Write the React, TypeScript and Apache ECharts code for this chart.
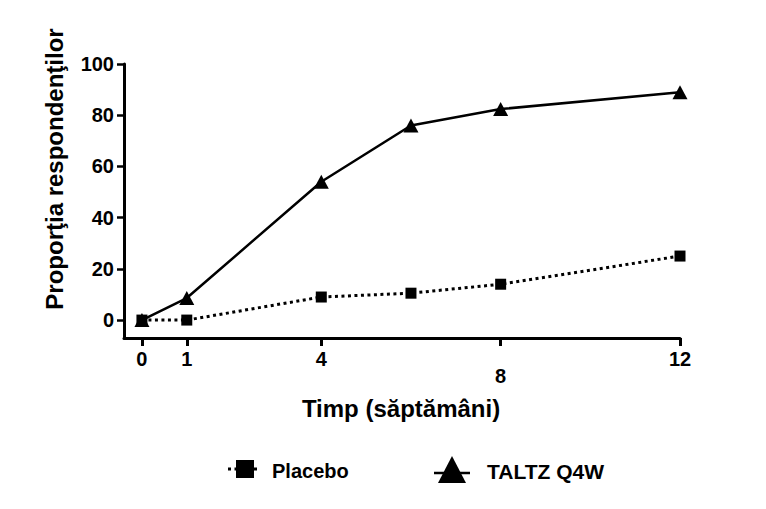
import React, { useEffect, useRef } from "react";
import * as echarts from "echarts";

const weeks = [0, 1, 4, 6, 8, 12];
const placebo = [0, 0, 9, 10.5, 14, 25];
const taltz = [0, 8.6, 54, 76, 82.4, 89];
const xTicks = [0, 1, 4, 8, 12];
const yTicks = [0, 20, 40, 60, 80, 100];
const seriesNames = ["Placebo", "TALTZ Q4W"];
const yTitle = "Proporţia respondenţilor";
const xTitle = "Timp (săptămâni)";

const FONT = '"Liberation Sans", Arial, sans-serif';

export default function App() {
  const ref = useRef<HTMLDivElement>(null);
  useEffect(() => {
    if (!ref.current) return;
    const chart = echarts.init(ref.current, null, { renderer: "svg" });
    chart.setOption({
      animation: false,
      backgroundColor: "#fff",
      grid: { left: 124, right: 86, top: 64, bottom: 171, containLabel: false },
      xAxis: {
        type: "value",
        min: -0.4,
        max: 12,
        splitLine: { show: false },
        axisLine: { onZero: false, lineStyle: { color: "#000", width: 3 } },
        axisTick: { customValues: xTicks, length: 8, lineStyle: { color: "#000", width: 3 } },
        axisLabel: {
          customValues: xTicks,
          margin: 11,
          color: "#000",
          fontFamily: FONT,
          fontWeight: "bold",
          fontSize: 20,
          formatter: (v: number) => (v === 8 ? "{low|8}" : String(v)),
          rich: {
            low: {
              padding: [17, 0, 0, 0],
              color: "#000",
              fontFamily: FONT,
              fontWeight: "bold",
              fontSize: 20,
            },
          },
        },
      },
      yAxis: {
        type: "value",
        min: -7,
        max: 100,
        splitLine: { show: false },
        axisLine: { onZero: false, lineStyle: { color: "#000", width: 3 } },
        axisTick: { customValues: yTicks, length: 7, lineStyle: { color: "#000", width: 2.5 } },
        axisLabel: {
          customValues: yTicks,
          margin: 10,
          color: "#000",
          fontFamily: FONT,
          fontWeight: "bold",
          fontSize: 20,
        },
      },
      series: [
        {
          name: seriesNames[1],
          type: "line",
          data: weeks.map((w, i) => [w, taltz[i]]),
          symbol: "triangle",
          symbolSize: [15, 14],
          lineStyle: { color: "#000", width: 2.5 },
          itemStyle: { color: "#000" },
        },
        {
          name: seriesNames[0],
          type: "line",
          data: weeks.map((w, i) => [w, placebo[i]]),
          symbol: "rect",
          symbolSize: 11,
          lineStyle: { color: "#000", width: 3, type: [3, 3.5] },
          itemStyle: { color: "#000" },
        },
      ],
      graphic: [
        {
          type: "text",
          x: 54,
          y: 169,
          rotation: Math.PI / 2,
          style: {
            text: yTitle,
            fill: "#000",
            font: `bold 24px ${FONT}`,
            textAlign: "center",
            textVerticalAlign: "middle",
          },
        },
        {
          type: "text",
          x: 401,
          y: 408,
          style: {
            text: xTitle,
            fill: "#000",
            font: `bold 24px ${FONT}`,
            textAlign: "center",
            textVerticalAlign: "middle",
          },
        },
        {
          type: "line",
          shape: { x1: 228, y1: 469, x2: 258, y2: 469 },
          style: { stroke: "#000", lineWidth: 3, lineDash: [3, 3.5] },
        },
        {
          type: "rect",
          shape: { x: 236, y: 460, width: 18, height: 18 },
          style: { fill: "#000" },
        },
        {
          type: "text",
          x: 272,
          y: 471,
          style: {
            text: seriesNames[0],
            fill: "#000",
            font: `bold 20px ${FONT}`,
            textAlign: "left",
            textVerticalAlign: "middle",
          },
        },
        {
          type: "line",
          shape: { x1: 434, y1: 473, x2: 470, y2: 473 },
          style: { stroke: "#000", lineWidth: 2.5 },
        },
        {
          type: "polygon",
          shape: { points: [[452, 456], [438, 483], [466, 483]] },
          style: { fill: "#000" },
        },
        {
          type: "text",
          x: 487,
          y: 471,
          style: {
            text: seriesNames[1],
            fill: "#000",
            font: `bold 21px ${FONT}`,
            textAlign: "left",
            textVerticalAlign: "middle",
          },
        },
      ],
    });
    return () => chart.dispose();
  }, []);
  return <div ref={ref} style={{ width: 766, height: 509, position: "absolute", left: 0, top: 0 }} />;
}
